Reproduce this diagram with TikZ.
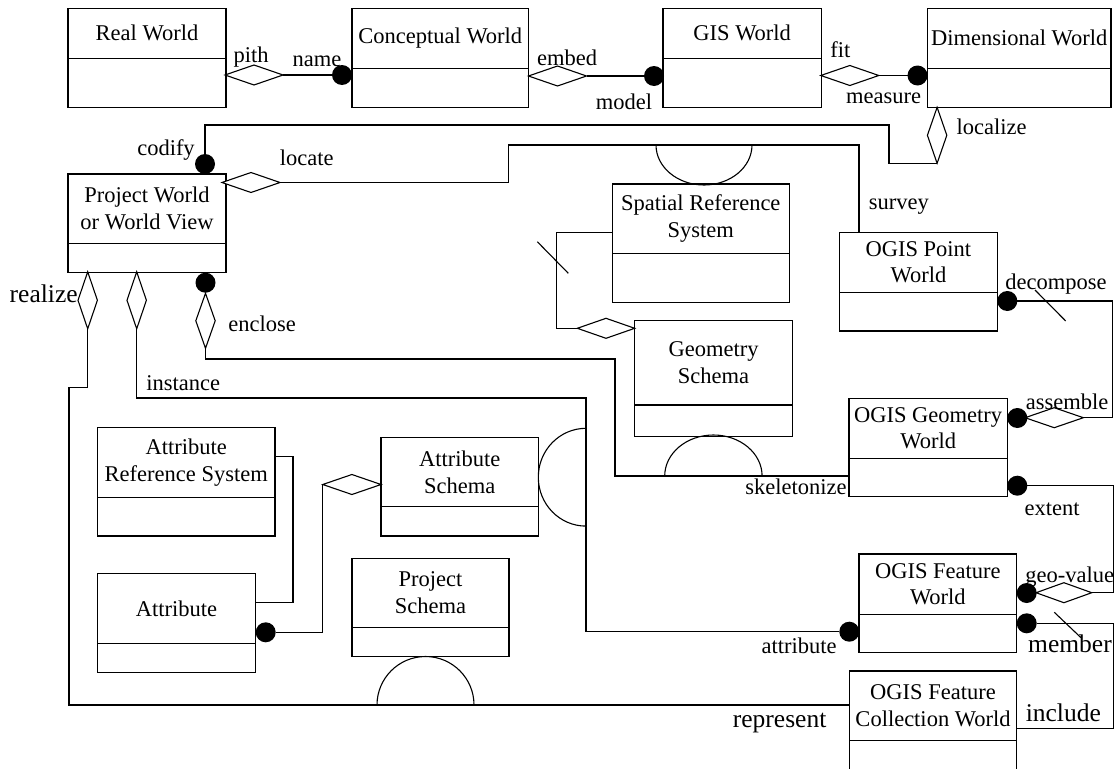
\documentclass[tikz,border=0pt]{standalone}
\usepackage{fontspec}
\setmainfont{Liberation Serif}
\usetikzlibrary{shapes.geometric,calc}
\newcommand\fsN{\fontsize{22.5}{26.7}\selectfont}
\newcommand\fsB{\fontsize{25.5}{30}\selectfont}
\newcommand\umlbox[7]{%
  \node[part, minimum width={#4-#2}, minimum height={#5-#3}, anchor=north west] (#1) at (#2,#3) {#7};
  \node[part, minimum width={#4-#2}, minimum height={#6-#5}, anchor=north west] (#1-b) at (#1.south west) {};
}
\begin{document}
\begin{tikzpicture}[x=1pt,y=-1pt,
  part/.style={draw, line width=1.4pt, inner sep=0pt, outer sep=0pt, align=center, font=\fsN},
  conn/.style={line width=1.1pt},
  hdia/.style={diamond, draw, line width=1.1pt, fill=white, inner sep=0pt, outer sep=0pt, minimum width=58pt, minimum height=20pt},
  vdia/.style={diamond, draw, line width=1.1pt, fill=white, inner sep=0pt, outer sep=0pt, minimum width=19.4pt, minimum height=56pt},
  dot/.style={circle, fill=black, inner sep=0pt, outer sep=0pt, minimum size=20pt},
  lab/.style={inner sep=0pt, font=\fsN},
  blab/.style={inner sep=0pt, font=\fsB}]
\clip (0,0) rectangle (1115,768);
\fill[white] (0,0) rectangle (1115,768);

% boxes
\umlbox{rw}{68}{8.3}{226}{58.3}{107.3}{Real World}
\umlbox{cw}{352}{8.3}{528.6}{68.3}{107.3}{Conceptual World}
\umlbox{gw}{663}{8.3}{821.4}{58.3}{107.3}{GIS World}
\umlbox{dw}{927.5}{8.3}{1111}{68.3}{107.3}{Dimensional World}
\umlbox{pw}{68}{174}{226}{243.3}{272.7}{Project World\\or World View}
\umlbox{srs}{612.3}{184}{789.3}{253.7}{302.3}{Spatial Reference\\System}
\umlbox{pt}{839.5}{232.3}{997.3}{292.3}{331}{OGIS Point\\World}
\umlbox{gs}{634.7}{320.3}{792.3}{405}{436.7}{Geometry\\Schema}
\umlbox{gm}{849}{398.3}{1007.3}{458.3}{496.7}{OGIS Geometry\\World}
\umlbox{ars}{97.5}{427.7}{275}{497.3}{536}{Attribute\\Reference System}
\umlbox{as}{380.8}{437.3}{538.5}{506.7}{536}{Attribute\\Schema}
\umlbox{at}{97.5}{573.3}{255.7}{643.3}{672.7}{Attribute}
\umlbox{ps}{351.8}{558.3}{509}{627.7}{656.7}{Project\\Schema}
\umlbox{fw}{859}{554}{1016.7}{614.3}{652.7}{OGIS Feature\\World}
\umlbox{fc}{849.3}{671}{1016.7}{740.7}{800}{OGIS Feature\\Collection World}

% pith / name
\node[hdia] (dpith) at (254,75) {};
\node[dot] (cname) at (342,75) {};
\draw[conn] (dpith.east) -- (cname.west);
% embed / model
\node[hdia] (dembed) at (557.5,76) {};
\node[dot] (cmodel) at (654,76) {};
\draw[conn] (dembed.east) -- (cmodel.west);
% fit / measure
\node[hdia] (dfit) at (849.8,75.5) {};
\node[dot] (cmeas) at (917.5,75.5) {};
\draw[conn] (dfit.east) -- (cmeas.west);
% localize / codify
\node[vdia] (dloc) at (937.1,135.3) {};
\node[dot] (ccod) at (205,164) {};
\draw[conn] (ccod.north) -- (205,125) -- (889,125) -- (889,163.3) -- (dloc.south);
% locate / survey
\node[hdia] (dlocate) at (251,182.5) {};
\draw[conn] (dlocate.east) -- (508.3,182.5) -- (508.3,145) -- (859,145) -- (pt.north -| 859,0);
\draw[conn] (656,145) arc[start angle=180, end angle=0, x radius=48, y radius=40];
% SRS - Geometry Schema
\node[hdia, minimum width=57.4pt] (dsrs) at (606,328.3) {};
\draw[conn] (srs.west |- 0,232.3) -- (556.7,232.3) -- (556.7,328.3) -- (dsrs.west);
\draw[conn] (537.3,241.7) -- (568.3,273.3);
% enclose / skeletonize
\node[dot] (cenc) at (205.5,282.7) {};
\node[vdia, minimum height=55pt] (denc) at (205.5,320.8) {};
\draw[conn] (denc.south) -- (205.5,359) -- (615,359) -- (615,476) -- (gm.west |- 0,476);
\draw[conn] (664.7,476) arc[start angle=180, end angle=360, x radius=48.7, y radius=41];
% instance / attribute
\node[vdia, minimum height=57pt] (dinst) at (136.7,300.3) {};
\node[dot] (cattr) at (849.3,631.7) {};
\draw[conn] (dinst.south) -- (136.7,398) -- (586,398) -- (586,631.7) -- (cattr.west);
\draw[conn] (586,428.3) arc[start angle=270, end angle=90, x radius=47.7, y radius=48.9];
% realize / represent
\node[vdia, minimum height=57pt] (dreal) at (87.7,300.3) {};
\draw[conn] (dreal.south) -- (87.7,387.3) -- (69,387.3) -- (69,705) -- (fc.west |- 0,705);
\draw[conn] (377,705) arc[start angle=180, end angle=360, radius=48.5];
% attribute reference system - attribute
\draw[conn] (ars.east |- 0,456.7) -- (293,456.7) -- (293,602.3) -- (at.east |- 0,602.3);
% attribute - attribute schema
\node[dot] (catt2) at (265.7,632.3) {};
\node[hdia, minimum width=58.3pt] (das) at (351.9,484.5) {};
\draw[conn] (catt2.east) -- (catt2.east -| das.west) -- (das.west);
% decompose / assemble
\node[dot] (cdec) at (1007.3,301) {};
\node[hdia, minimum width=58.3pt] (dasm) at (1054.2,417.7) {};
\node[dot] (casm) at (1017.3,418) {};
\draw[conn] (cdec.east) -- (1112.7,301) -- (1112.7,417.7) -- (dasm.east);
\draw[conn] (1035,290) -- (1065.7,321);
% extent / geo-value
\node[dot] (cext) at (1017.3,485.7) {};
\node[hdia, minimum width=55.7pt] (dgeo) at (1063.9,592.7) {};
\node[dot] (cgeo) at (1026.7,593) {};
\draw[conn] (cext.east) -- (1113.3,485.7) -- (1113.3,592.7) -- (dgeo.east);
% member / include
\node[dot] (cmem) at (1026.7,623.3) {};
\draw[conn] (cmem.east) -- (1113.3,623.3) -- (1113.3,728.3) -- (fc.east |- 0,728.3);
\draw[conn] (1054.3,612.3) -- (1081,637.7);

% labels
\node[lab] (lpith) at (251,57) {pith};
\node[lab] (lname) at (317,61) {name};
\node[lab] (lembed) at (567,58.3) {embed};
\node[lab] (lmodel) at (624,101.7) {model};
\node[lab] (lfit) at (840.4,50) {fit};
\node[lab] (lmeas) at (883.6,98.3) {measure};
\node[lab] (lloc) at (991.6,126.7) {localize};
\node[lab] (lcod) at (166,150) {codify};
\node[lab] (llocate) at (306.7,158.3) {locate};
\node[lab] (lsurv) at (898.8,206.7) {survey};
\node[lab] (ldec) at (1056,284.3) {decompose};
\node[lab] (lasm) at (1067,401.7) {assemble};
\node[lab] (lenc) at (262,323.5) {enclose};
\node[lab] (linst) at (183.3,382.7) {instance};
\node[blab] (lreal) at (43.7,293.3) {realize};
\node[lab] (lskel) at (796,486.7) {skeletonize};
\node[lab] (lext) at (1052,509) {extent};
\node[lab] (lgeo) at (1069.7,577.3) {geo-value};
\node[lab] (lattr) at (799,645.7) {attribute};
\node[blab] (lmem) at (1070,644) {member};
\node[blab] (linc) at (1063.3,712.3) {include};
\node[blab] (lrep) at (779.6,722.7) {represent};
\end{tikzpicture}
\end{document}
